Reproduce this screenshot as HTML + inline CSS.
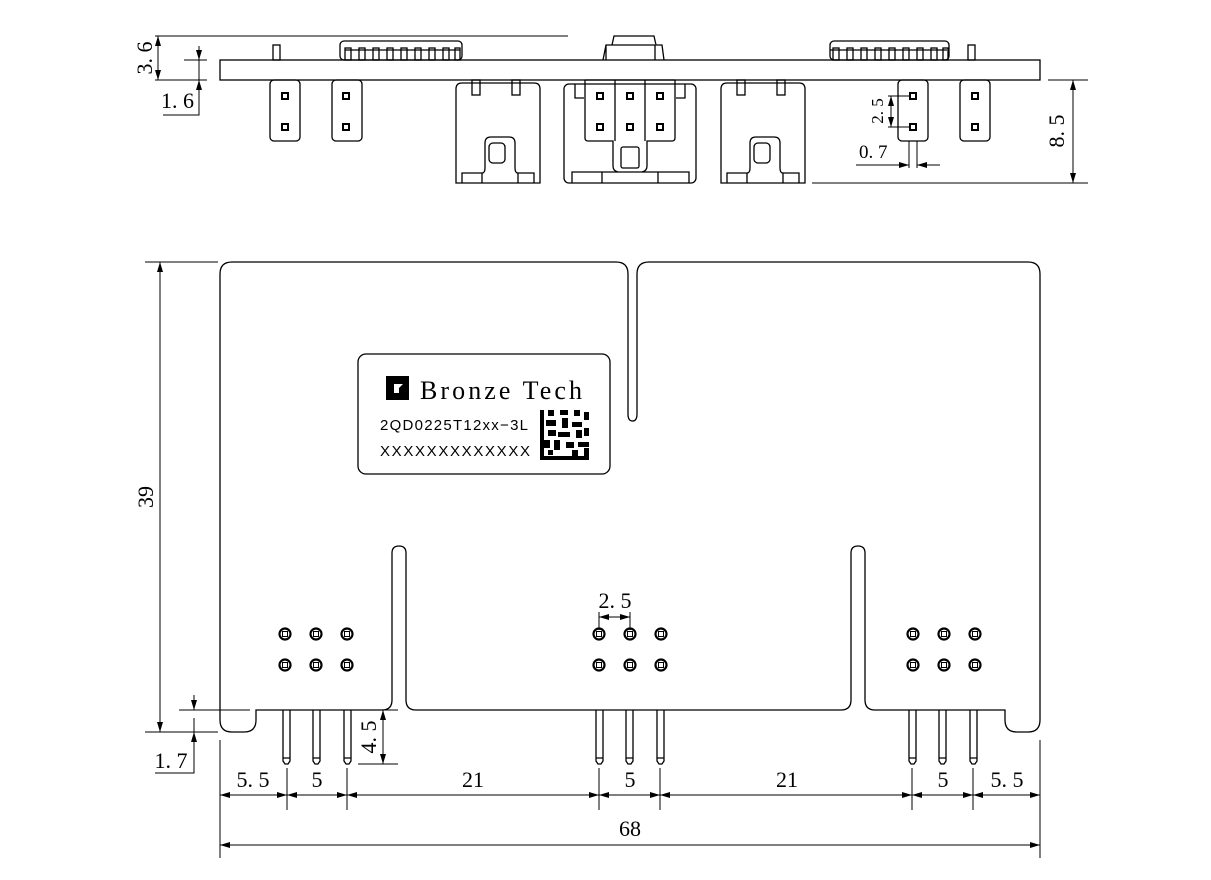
<!DOCTYPE html>
<html><head><meta charset="utf-8"><style>html,body{margin:0;padding:0;background:#fff}svg{display:block}</style></head>
<body>
<svg width="1211" height="880" viewBox="0 0 1211 880" xmlns="http://www.w3.org/2000/svg">
<defs>
<marker id="a" viewBox="0 0 10 6" refX="10" refY="3" markerWidth="10" markerHeight="6" markerUnits="userSpaceOnUse" orient="auto-start-reverse"><path d="M0,0L10,3L0,6z" fill="#000"/></marker>
</defs>
<g fill="none" stroke="#000" stroke-width="1.3">
<!-- TOP VIEW -->
<rect x="220" y="60" width="820" height="20"/>
<rect x="273" y="45" width="7" height="15"/><rect x="968" y="45" width="7" height="15"/>
<rect x="340" y="41" width="122" height="19" rx="4"/>
<path d="M345 50h115M830 50h117"/>
<g id="cp"><rect x="345" y="48" width="6" height="12"/><rect x="359" y="48" width="6" height="12"/><rect x="373" y="48" width="6" height="12"/><rect x="387" y="48" width="6" height="12"/><rect x="401" y="48" width="6" height="12"/><rect x="415" y="48" width="6" height="12"/><rect x="429" y="48" width="6" height="12"/><rect x="443" y="48" width="6" height="12"/><rect x="455" y="48" width="5" height="12"/></g>
<rect x="830" y="41" width="119" height="19" rx="4"/>
<use href="#cp" x="488"/>
<path d="M603 60l3-15h6l2-9h40l2 9h6l2 15M606 45v15M655 45v15M612 45h43"/>
<rect x="270" y="80" width="30" height="61" rx="4"/><rect x="332" y="80" width="30" height="61" rx="4"/>
<rect x="898" y="80" width="30" height="61" rx="4"/><rect x="960" y="80" width="30" height="61" rx="4"/>
<g id="c1"><path d="M456 183V89q0-6 6-6h72q6 0 6 6v94z"/><rect x="472" y="80" width="8" height="15"/><rect x="512" y="80" width="8" height="15"/>
<path d="M462 183v-10h20v10M518 183v-10h16v10M482 173q3 0 3-5v-25q0-6 6-6h18q6 0 6 6v25q0 5 3 5"/><rect x="489" y="143" width="16" height="20" rx="4"/></g>
<use href="#c1" x="265"/>
<!-- middle connector -->
<rect x="564" y="84" width="132" height="99" rx="5"/>
<path d="M572 183v-11h117v11M602 172v11M658 172v11M575 84v14h9M685 84v14h-9"/>
<path d="M585 80h90M585 80v58q0 3 3 3h25v25q0 5 5 6M675 80v58q0 3-3 3h-25v25q0 5-5 6M615 80v61M645 80v61"/>
<rect x="621" y="147" width="18" height="21" rx="2"/>
</g>
<g fill="#000">
<rect x="281" y="92" width="8" height="8"/><rect x="281" y="123" width="8" height="8"/>
<rect x="342" y="92" width="8" height="8"/><rect x="342" y="123" width="8" height="8"/>
<rect x="596" y="92" width="8" height="8"/><rect x="596" y="123" width="8" height="8"/>
<rect x="626" y="92" width="8" height="8"/><rect x="626" y="123" width="8" height="8"/>
<rect x="656" y="92" width="8" height="8"/><rect x="656" y="123" width="8" height="8"/>
<rect x="909" y="92" width="8" height="8"/><rect x="909" y="123" width="8" height="8"/>
<rect x="971" y="92" width="8" height="8"/><rect x="971" y="123" width="8" height="8"/>
</g>
<g fill="#fff"><rect x="283" y="94" width="4" height="4"/><rect x="283" y="125" width="4" height="4"/><rect x="344" y="94" width="4" height="4"/><rect x="344" y="125" width="4" height="4"/><rect x="598" y="94" width="4" height="4"/><rect x="598" y="125" width="4" height="4"/><rect x="628" y="94" width="4" height="4"/><rect x="628" y="125" width="4" height="4"/><rect x="658" y="94" width="4" height="4"/><rect x="658" y="125" width="4" height="4"/><rect x="911" y="94" width="4" height="4"/><rect x="911" y="125" width="4" height="4"/><rect x="973" y="94" width="4" height="4"/><rect x="973" y="125" width="4" height="4"/></g>
<g fill="none" stroke="#000" stroke-width="1">
<path d="M155 36H568M155 80H207M184 60H207M163 115H199V46"/>
<path d="M158 36V80" marker-start="url(#a)" marker-end="url(#a)"/>
<path d="M199 48V60" marker-end="url(#a)"/><path d="M199 92V80" marker-end="url(#a)"/>
<path d="M1048 80H1088M812 183H1088"/><path d="M1073 80V183" marker-start="url(#a)" marker-end="url(#a)"/>
<path d="M888 96H910M888 127H910"/><path d="M891 96V127" marker-start="url(#a)" marker-end="url(#a)"/>
<path d="M909 141V168M917 141V168M856 165H897M929 165H940"/>
<path d="M897 165H909" marker-end="url(#a)"/><path d="M929 165H917" marker-end="url(#a)"/>
</g>
<g font-family="Liberation Serif, serif" font-size="22" fill="#000">
<text transform="translate(152,58) rotate(-90)" text-anchor="middle">3. 6</text>
<text x="161" y="108">1. 6</text>
<text transform="translate(1064,131) rotate(-90)" text-anchor="middle">8. 5</text>
<text transform="translate(883,111) rotate(-90)" text-anchor="middle" font-size="17">2. 5</text>
<text x="859" y="158" font-size="19">0. 7</text>
</g>
<!-- BOTTOM VIEW -->
<g fill="none" stroke="#000" stroke-width="1.3">
<path d="M220 720V274q0-12 12-12H616q12 0 12 12V414q0 7 4.5 7t4.5-7V274q0-12 12-12H1028q12 0 12 12V720q0 12-12 12H1017q-12 0-12-12V710H875q-10 0-10-10V553q0-7-7-7t-7 7V700q0 10-10 10H416q-10 0-10-10V553q0-7-7-7t-7 7V700q0 10-10 10H256v10q0 12-12 12H232q-12 0-12-12z"/>
<rect x="358" y="354" width="252" height="120" rx="8"/>
<g id="pins"><path d="M283 710v51l2 3h3l2-3v-51M283 758h7M313 710v51l2 3h3l2-3v-51M313 758h7M344 710v51l2 3h3l2-3v-51M344 758h7"/></g>
<use href="#pins" x="313"/><use href="#pins" x="626"/>
</g>
<g fill="none" stroke="#000" stroke-width="2.2" id="holes">
<circle cx="285" cy="634" r="5.5"/><circle cx="316" cy="634" r="5.5"/><circle cx="347" cy="634" r="5.5"/>
<circle cx="285" cy="665" r="5.5"/><circle cx="316" cy="665" r="5.5"/><circle cx="347" cy="665" r="5.5"/>
</g>
<use href="#holes" x="314"/><use href="#holes" x="628"/>
<g fill="none" stroke="#000" stroke-width="1" id="hs">
<rect x="282.5" y="631.5" width="5" height="5"/><rect x="313.5" y="631.5" width="5" height="5"/><rect x="344.5" y="631.5" width="5" height="5"/>
<rect x="282.5" y="662.5" width="5" height="5"/><rect x="313.5" y="662.5" width="5" height="5"/><rect x="344.5" y="662.5" width="5" height="5"/>
</g>
<use href="#hs" x="314"/><use href="#hs" x="628"/>
<rect x="386" y="376" width="23" height="24" fill="#000"/>
<path d="M394 393V384h9l-4 4v5z" fill="#fff"/>
<text x="420" y="399" font-family="Liberation Serif, serif" font-size="26" fill="#000" textLength="162" lengthAdjust="spacing">Bronze Tech</text>
<text x="380" y="430" font-family="Liberation Sans, sans-serif" font-size="15" fill="#000" textLength="148">2QD0225T12xx−3L</text>
<text x="380" y="456" font-family="Liberation Sans, sans-serif" font-size="15" fill="#000" textLength="150">XXXXXXXXXXXXX</text>
<g fill="#000">
<rect x="540" y="410" width="4" height="50"/><rect x="540" y="456" width="49" height="4"/>
<rect x="548" y="410" width="6" height="6"/><rect x="560" y="410" width="8" height="5"/><rect x="574" y="410" width="6" height="6"/><rect x="584" y="412" width="5" height="8"/>
<rect x="546" y="420" width="10" height="6"/><rect x="562" y="418" width="6" height="10"/><rect x="572" y="422" width="10" height="5"/>
<rect x="548" y="430" width="8" height="6"/><rect x="558" y="432" width="12" height="5"/><rect x="576" y="430" width="6" height="8"/><rect x="584" y="428" width="5" height="8"/>
<rect x="544" y="440" width="6" height="8"/><rect x="554" y="440" width="6" height="10"/><rect x="566" y="442" width="8" height="6"/><rect x="578" y="442" width="11" height="5"/>
<rect x="548" y="450" width="5" height="5"/><rect x="572" y="450" width="6" height="6"/><rect x="584" y="448" width="5" height="8"/>
</g>
<g fill="none" stroke="#000" stroke-width="1">
<path d="M145 262H218M145 732H218"/><path d="M160 262V732" marker-start="url(#a)" marker-end="url(#a)"/>
<path d="M179 710H250M155 773H194V718"/><path d="M194 695V710" marker-end="url(#a)"/><path d="M194 745V732" marker-end="url(#a)"/>
<path d="M380 710H398M358 764H398"/><path d="M383 710V764" marker-start="url(#a)" marker-end="url(#a)"/>
<path d="M599 612V630M630 612V630"/><path d="M599 617H630" marker-start="url(#a)" marker-end="url(#a)"/>
<path d="M220 740V858M1040 740V858"/>
<path d="M287 768V810M347 768V810M599 768V810M660 768V810M912 768V810M973 768V810"/>
<path d="M220 795H287" marker-start="url(#a)" marker-end="url(#a)"/>
<path d="M287 795H347" marker-start="url(#a)" marker-end="url(#a)"/>
<path d="M347 795H599" marker-start="url(#a)" marker-end="url(#a)"/>
<path d="M599 795H660" marker-start="url(#a)" marker-end="url(#a)"/>
<path d="M660 795H912" marker-start="url(#a)" marker-end="url(#a)"/>
<path d="M912 795H973" marker-start="url(#a)" marker-end="url(#a)"/>
<path d="M973 795H1040" marker-start="url(#a)" marker-end="url(#a)"/>
<path d="M220 845H1040" marker-start="url(#a)" marker-end="url(#a)"/>
</g>
<g font-family="Liberation Serif, serif" font-size="22" fill="#000" text-anchor="middle">
<text transform="translate(153,497) rotate(-90)">39</text>
<text x="171" y="768">1. 7</text>
<text transform="translate(376,737) rotate(-90)">4. 5</text>
<text x="615" y="608">2. 5</text>
<text x="253" y="787">5. 5</text><text x="317" y="787">5</text><text x="473" y="787">21</text>
<text x="630" y="787">5</text><text x="787" y="787">21</text><text x="943" y="787">5</text><text x="1007" y="787">5. 5</text>
<text x="630" y="836">68</text>
</g>
</svg>
</body></html>
